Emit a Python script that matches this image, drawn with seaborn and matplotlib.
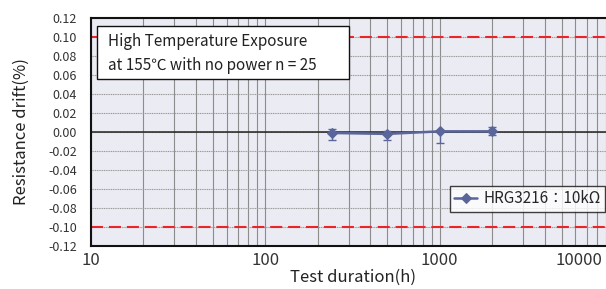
import numpy as np
import pandas as pd
import matplotlib
matplotlib.use("Agg")
import matplotlib.pyplot as plt
import matplotlib.ticker as mticker
import matplotlib.transforms as mtransforms
from matplotlib.patches import Rectangle
import seaborn as sns

# data
hours = [240, 500, 1000, 2000]
drift = [-0.001, -0.002, 0.0007, 0.0007]
drift_low = [-0.008, -0.008, -0.0115, -0.0035]
drift_high = [0.003, 0.0014, 0.002, 0.005]
series_name = "HRG3216：10kΩ"
limit = 0.10
yticks = [round(v, 2) for v in np.arange(-0.12, 0.121, 0.02)]
xticks = [10, 100, 1000, 10000]
box_lines = ["High Temperature Exposure", "at 155℃ with no power n = 25"]

sns.set_theme(style="white")
plt.rcParams['font.family'] = ['Noto Sans CJK JP', 'DejaVu Sans']

line_col = "#5a6699"
bg = "#ebebf3"

df = pd.DataFrame({"Test duration(h)": hours, "drift": drift, "name": series_name})

fig = plt.figure(figsize=(6.06, 2.89), dpi=100)
ax = fig.add_axes([91/606, 43/289, 523/606, 228/289])
ax.set_facecolor(bg)

ax.set_xscale("log")
ax.set_xlim(10, 10000)
ax.set_ylim(-0.12, 0.12)

ax.set_yticks(yticks)
ax.yaxis.set_major_formatter(mticker.FormatStrFormatter("%.2f"))
ax.set_xticks(xticks)
ax.set_xticklabels([str(v) for v in xticks])
ax.xaxis.set_minor_locator(mticker.LogLocator(base=10, subs=np.arange(2, 10)))
ax.xaxis.set_minor_formatter(mticker.NullFormatter())
ax.tick_params(axis="both", which="both", length=0)
ax.tick_params(axis="y", labelsize=9, pad=10, colors="#333333")
ax.tick_params(axis="x", labelsize=12, pad=4, colors="#333333")

ax.grid(True, axis="x", which="both", color="#8c8c8c", lw=0.8)
ax.grid(True, axis="y", which="major", color="#9a9a9a", lw=0.8, ls=(0, (1, 0.6)))
ax.set_axisbelow(True)

ax.axhline(0, color="#222222", lw=1.1, zorder=2)
for v in (limit, -limit):
    ax.axhline(v, color="#e8262a", lw=1.5, dashes=(5.8, 2.8), zorder=2)

for s in ax.spines.values():
    s.set_color("#111111")
    s.set_linewidth(1.5)

yerr = [np.array(drift) - np.array(drift_low), np.array(drift_high) - np.array(drift)]
ax.errorbar(hours, drift, yerr=yerr, fmt="none", ecolor=line_col, elinewidth=1.0,
            capsize=3, capthick=1.0, zorder=3)
sns.lineplot(data=df, x="Test duration(h)", y="drift", hue="name", palette=[line_col],
             marker="D", markersize=5, markeredgecolor=line_col, lw=1.8, ax=ax, zorder=4)

leg = ax.legend(loc="lower right", bbox_to_anchor=(514/523, 34/228), frameon=True,
                fontsize=11, handlelength=1.5, handletextpad=0.4, borderpad=0.3,
                fancybox=False, borderaxespad=0.0)
leg.get_frame().set_edgecolor("#111111")
leg.get_frame().set_linewidth(1.0)

ax.add_patch(Rectangle((6/523, 167/228), 252/523, 53/228, transform=ax.transAxes,
                       facecolor="white", edgecolor="#111111", lw=1.0, zorder=5))
ax.text(17/523, 204/228, box_lines[0], transform=ax.transAxes, fontsize=11,
        va="center", ha="left", color="#222222", zorder=6)
ax.text(17/523, 180/228, box_lines[1], transform=ax.transAxes, fontsize=11,
        va="center", ha="left", color="#222222", zorder=6)

ax.set_xlabel("Test duration(h)", fontsize=12, labelpad=0, color="#222222")
ax.set_ylabel("Resistance drift(%)", fontsize=12, labelpad=13, color="#222222")

# last tick label sits inside the cropped figure
lab = ax.get_xticklabels()[-1]
lab.set_ha("right")
lab.set_transform(lab.get_transform() + mtransforms.ScaledTranslation(-12/100, 0, fig.dpi_scale_trans))

fig.savefig("out.png", dpi=100, facecolor="white")
